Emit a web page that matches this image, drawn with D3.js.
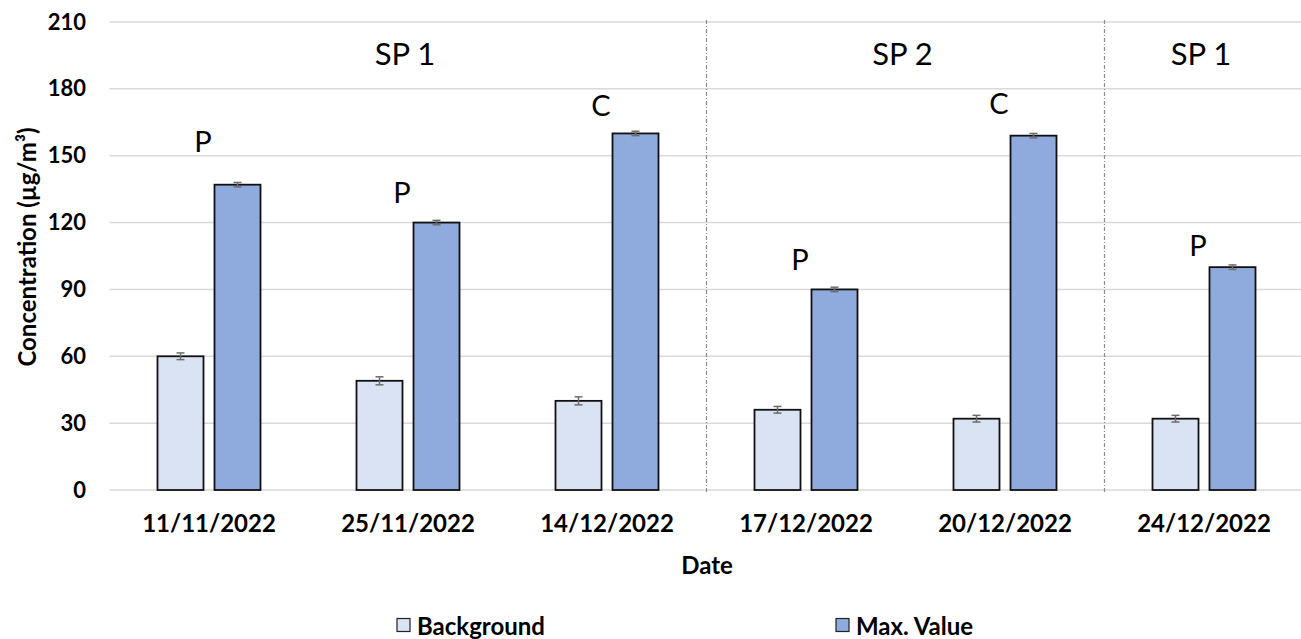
<!DOCTYPE html>
<html>
<head>
<meta charset="utf-8">
<script src="https://cdn.jsdelivr.net/npm/d3@7"></script>
<style>
  html, body { margin: 0; padding: 0; background: #fff; }
  svg { display: block; }
  text { font-family: Lato, "Open Sans", sans-serif; fill: #000; }
</style>
</head>
<body>
<svg id="chart" width="1301" height="639"></svg>
<script>
// Sampling dates and measured concentrations (µg/m³)
const dates = ["11/11/2022", "25/11/2022", "14/12/2022", "17/12/2022", "20/12/2022", "24/12/2022"];
const seriesNames = ["Background", "Max. Value"];
const background = [60, 49, 40, 36, 32, 32];
const maxValue = [137, 120, 160, 90, 159, 100];
const backgroundErr = [1.5, 1.8, 1.8, 1.5, 1.5, 1.5];
const maxValueErr = [1, 1, 1, 1, 1, 1];
// Event type per date and the level its tag is written at
const eventTags = ["P", "P", "C", "P", "C", "P"];
const tagLevels = [157, 134, 173, 104, 174, 110];
// Sampling points spanning groups of dates
const siteNames = ["SP 1", "SP 2", "SP 1"];
const siteFrom = [0, 3, 5];
const siteTo = [3, 5, 6];
const yTicks = [0, 30, 60, 90, 120, 150, 180, 210];

const colors = { "Background": "#dae3f3", "Max. Value": "#8faadc" };

const svg = d3.select("#chart");
const plotLeft = 109.5, plotRight = 1303.5, plotTop = 22, plotBottom = 490;

const x0 = d3.scaleBand().domain(dates).range([plotLeft, plotRight]).padding(0);
const xIdx = d3.scaleLinear().domain([0, dates.length]).range([plotLeft, plotRight]);
const groupW = 103;
const x1 = d3.scaleBand().domain(seriesNames)
  .range([(x0.bandwidth() - groupW) / 2, (x0.bandwidth() + groupW) / 2])
  .paddingInner(11 / 57);
const y = d3.scaleLinear().domain([0, 210]).range([plotBottom, plotTop]);

// Horizontal gridlines
svg.append("g").selectAll("line").data(yTicks).join("line")
  .attr("x1", plotLeft).attr("x2", 1301)
  .attr("y1", d => y(d)).attr("y2", d => y(d))
  .attr("stroke", "#d9d9d9").attr("stroke-width", 1.5);

// Y axis labels
const yAxis = d3.axisLeft(y).tickValues(yTicks).tickSize(0).tickPadding(0);
const gy = svg.append("g").attr("transform", `translate(86,0)`).call(yAxis);
gy.select(".domain").remove();
gy.selectAll("text").attr("font-size", 22).attr("font-weight", "bold")
  .style("font-family", "Lato, sans-serif").attr("fill", "#000");

// Sampling-point separators
svg.append("g").selectAll("line").data(siteFrom.slice(1)).join("line")
  .attr("x1", d => xIdx(d)).attr("x2", d => xIdx(d))
  .attr("y1", plotTop - 2).attr("y2", plotBottom + 4)
  .attr("stroke", "#8c8c8c").attr("stroke-width", 1.2)
  .attr("stroke-dasharray", "4,2,1,2");

// Bars
const rows = dates.map((d, i) => ({
  date: d,
  vals: [
    { key: "Background", v: background[i], e: backgroundErr[i] },
    { key: "Max. Value", v: maxValue[i], e: maxValueErr[i] }
  ]
}));
const groups = svg.append("g").selectAll("g").data(rows).join("g")
  .attr("transform", d => `translate(${x0(d.date)},0)`);
groups.selectAll("rect").data(d => d.vals).join("rect")
  .attr("x", d => x1(d.key)).attr("width", x1.bandwidth())
  .attr("y", d => y(d.v)).attr("height", d => y(0) - y(d.v))
  .attr("fill", d => colors[d.key]).attr("stroke", "#111").attr("stroke-width", 1.8);

// Error bars
const eb = groups.selectAll("g.err").data(d => d.vals).join("g").attr("class", "err");
eb.append("line")
  .attr("x1", d => x1(d.key) + x1.bandwidth() / 2).attr("x2", d => x1(d.key) + x1.bandwidth() / 2)
  .attr("y1", d => y(d.v - d.e)).attr("y2", d => y(d.v + d.e))
  .attr("stroke", "#6d6d6d").attr("stroke-width", 1.5);
eb.selectAll("line.cap").data(d => [[d, d.v - d.e], [d, d.v + d.e]]).join("line").attr("class", "cap")
  .attr("x1", d => x1(d[0].key) + x1.bandwidth() / 2 - 4).attr("x2", d => x1(d[0].key) + x1.bandwidth() / 2 + 4)
  .attr("y1", d => y(d[1])).attr("y2", d => y(d[1]))
  .attr("stroke", "#6d6d6d").attr("stroke-width", 1.5);

// Event tags above each date
svg.append("g").selectAll("text").data(dates).join("text")
  .attr("x", d => x0(d) + x0.bandwidth() / 2 - 6)
  .attr("y", (d, i) => y(tagLevels[i]))
  .attr("text-anchor", "middle").attr("dominant-baseline", "central")
  .attr("font-size", 29).text((d, i) => eventTags[i]);

// Sampling point labels
svg.append("g").selectAll("text").data(siteNames).join("text")
  .attr("x", (d, i) => xIdx((siteFrom[i] + siteTo[i]) / 2) - 3)
  .attr("y", plotTop + 31)
  .attr("text-anchor", "middle").attr("dominant-baseline", "central")
  .attr("font-size", 31).text(d => d);

// X axis labels
const xAxis = d3.axisBottom(x0).tickSize(0).tickPadding(0);
const gx = svg.append("g").attr("transform", `translate(0,${plotBottom + 34})`).call(xAxis);
gx.select(".domain").remove();
gx.selectAll("text").attr("font-size", 24).attr("font-weight", "bold")
  .attr("dy", "0.35em").attr("y", 0)
  .style("font-family", "Lato, sans-serif").attr("fill", "#000");

// Axis titles
svg.append("text").attr("x", 707).attr("y", 564)
  .attr("text-anchor", "middle").attr("dominant-baseline", "central")
  .attr("font-size", 24).attr("font-weight", "bold").text("Date");
svg.append("text").attr("transform", "translate(26,247) rotate(-90)")
  .attr("text-anchor", "middle").attr("dominant-baseline", "central")
  .attr("font-size", 24).attr("font-weight", "bold").text("Concentration (µg/m³)");

// Legend
const legendX = [397, 836];
const lg = svg.append("g").selectAll("g").data(seriesNames).join("g")
  .attr("transform", (d, i) => `translate(${legendX[i]},625)`);
lg.append("rect").attr("x", 0).attr("y", -6.5).attr("width", 13).attr("height", 13)
  .attr("fill", d => colors[d]).attr("stroke", "#222").attr("stroke-width", 1.2);
lg.append("text").attr("x", 20).attr("y", 0).attr("dominant-baseline", "central")
  .attr("font-size", 24).attr("font-weight", "bold").text(d => d);
</script>
</body>
</html>
